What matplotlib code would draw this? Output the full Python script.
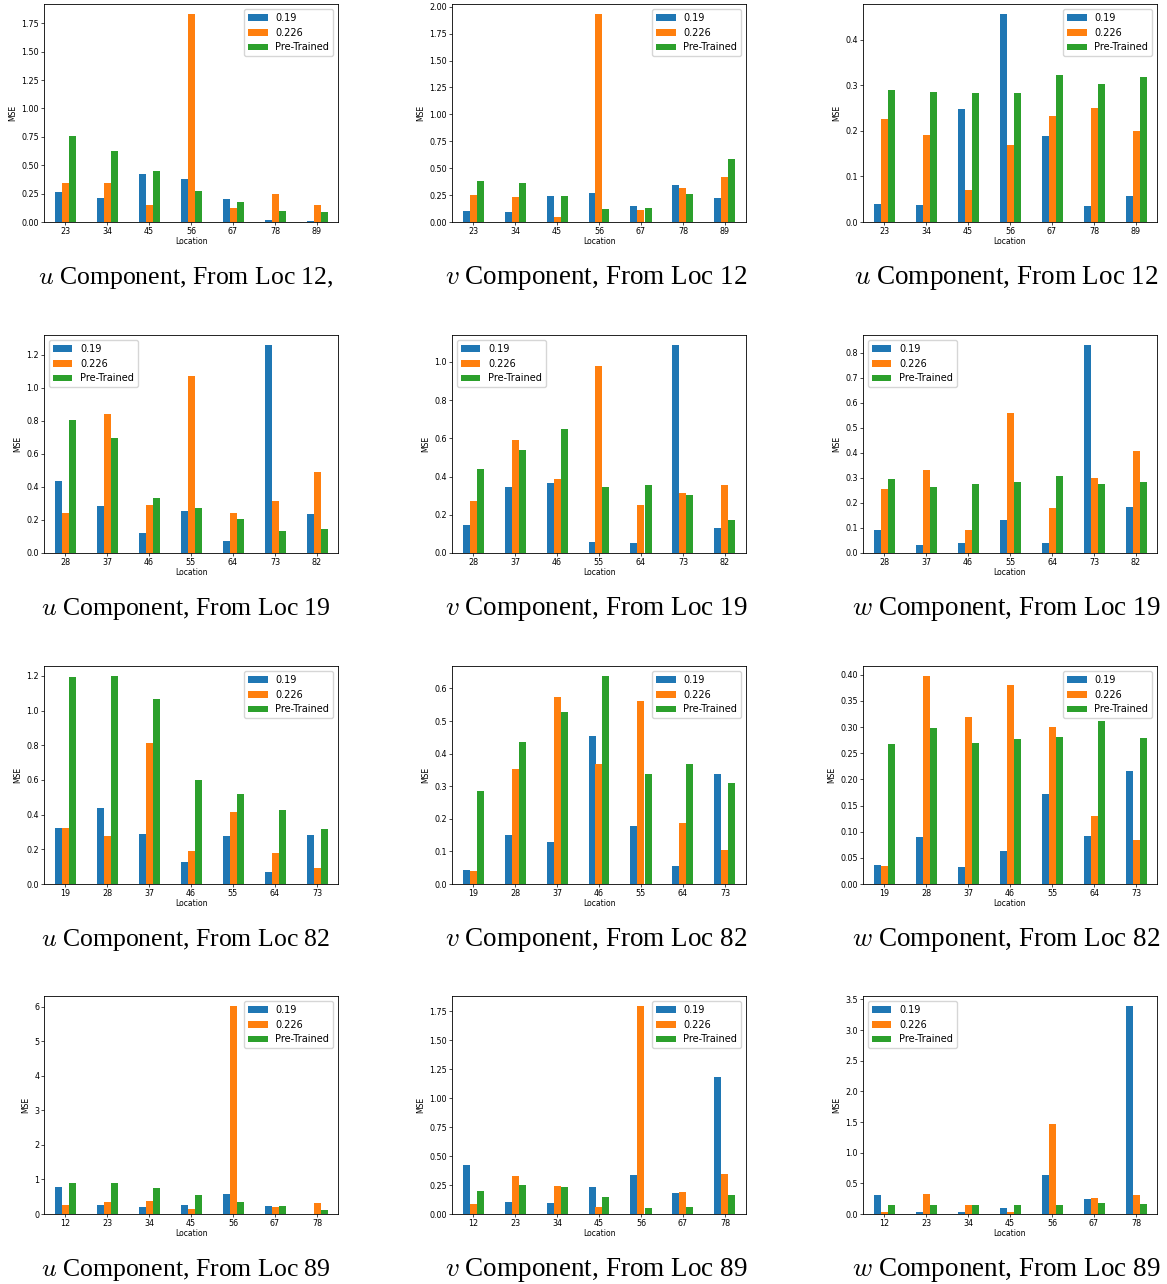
import numpy as np
import matplotlib
matplotlib.use("Agg")
import matplotlib.pyplot as plt

# location labels for each source point
locs_12 = ["23", "34", "45", "56", "67", "78", "89"]
locs_19 = ["28", "37", "46", "55", "64", "73", "82"]
locs_82 = ["19", "28", "37", "46", "55", "64", "73"]
locs_89 = ["12", "23", "34", "45", "56", "67", "78"]

series_names = ["0.19", "0.226", "Pre-Trained"]

# MSE values, from loc 12
u12_019 = [0.268, 0.215, 0.426, 0.382, 0.206, 0.020, 0.012]
u12_0226 = [0.347, 0.347, 0.153, 1.829, 0.126, 0.250, 0.153]
u12_pre = [0.762, 0.629, 0.453, 0.276, 0.179, 0.100, 0.091]

v12_019 = [0.105, 0.096, 0.245, 0.273, 0.152, 0.347, 0.226]
v12_0226 = [0.254, 0.236, 0.050, 1.929, 0.115, 0.319, 0.422]
v12_pre = [0.384, 0.366, 0.245, 0.124, 0.133, 0.264, 0.589]

w12_019 = [0.040, 0.038, 0.249, 0.456, 0.188, 0.036, 0.058]
w12_0226 = [0.227, 0.192, 0.071, 0.170, 0.232, 0.251, 0.199]
w12_pre = [0.291, 0.286, 0.284, 0.284, 0.322, 0.302, 0.319]

# from loc 19
u19_019 = [0.438, 0.287, 0.123, 0.257, 0.075, 1.257, 0.238]
u19_0226 = [0.244, 0.844, 0.293, 1.069, 0.244, 0.317, 0.493]
u19_pre = [0.808, 0.699, 0.335, 0.275, 0.208, 0.135, 0.147]

v19_019 = [0.149, 0.343, 0.369, 0.059, 0.054, 1.087, 0.133]
v19_0226 = [0.274, 0.589, 0.390, 0.977, 0.253, 0.316, 0.358]
v19_pre = [0.442, 0.537, 0.647, 0.343, 0.358, 0.306, 0.175]

w19_019 = [0.093, 0.033, 0.041, 0.133, 0.041, 0.829, 0.185]
w19_0226 = [0.257, 0.333, 0.093, 0.561, 0.181, 0.301, 0.409]
w19_pre = [0.297, 0.265, 0.277, 0.285, 0.309, 0.277, 0.285]

# from loc 82
u82_019 = [0.324, 0.439, 0.289, 0.127, 0.277, 0.069, 0.283]
u82_0226 = [0.324, 0.277, 0.815, 0.191, 0.416, 0.179, 0.092]
u82_pre = [1.191, 1.197, 1.069, 0.601, 0.520, 0.428, 0.318]

v82_019 = [0.043, 0.151, 0.129, 0.455, 0.178, 0.055, 0.338]
v82_0226 = [0.040, 0.354, 0.575, 0.369, 0.560, 0.188, 0.105]
v82_pre = [0.286, 0.437, 0.529, 0.637, 0.338, 0.369, 0.311]

w82_019 = [0.0365, 0.090, 0.0326, 0.063, 0.173, 0.092, 0.217]
w82_0226 = [0.0346, 0.397, 0.319, 0.380, 0.301, 0.1306, 0.0845]
w82_pre = [0.267, 0.298, 0.269, 0.278, 0.282, 0.311, 0.280]

# from loc 89
u89_019 = [0.79, 0.27, 0.21, 0.27, 0.59, 0.24, 0.01]
u89_0226 = [0.27, 0.356, 0.385, 0.154, 6.01, 0.21, 0.327]
u89_pre = [0.904, 0.904, 0.76, 0.558, 0.356, 0.24, 0.125]

v89_019 = [0.424, 0.106, 0.097, 0.235, 0.338, 0.183, 1.18]
v89_0226 = [0.089, 0.33, 0.244, 0.063, 1.79, 0.192, 0.347]
v89_pre = [0.200, 0.252, 0.235, 0.149, 0.054, 0.063, 0.166]

w89_019 = [0.314, 0.038, 0.038, 0.103, 0.639, 0.249, 3.386]
w89_0226 = [0.038, 0.330, 0.152, 0.038, 1.468, 0.265, 0.314]
w89_pre = [0.152, 0.152, 0.152, 0.152, 0.152, 0.184, 0.168]

panels = [
    (locs_12, [u12_019, u12_0226, u12_pre], "$u$ Component, From Loc 12,", "upper right"),
    (locs_12, [v12_019, v12_0226, v12_pre], "$v$ Component, From Loc 12", "upper right"),
    (locs_12, [w12_019, w12_0226, w12_pre], "$u$ Component, From Loc 12", "upper right"),
    (locs_19, [u19_019, u19_0226, u19_pre], "$u$ Component, From Loc 19", "upper left"),
    (locs_19, [v19_019, v19_0226, v19_pre], "$v$ Component, From Loc 19", "upper left"),
    (locs_19, [w19_019, w19_0226, w19_pre], "$w$ Component, From Loc 19", "upper left"),
    (locs_82, [u82_019, u82_0226, u82_pre], "$u$ Component, From Loc 82", "upper right"),
    (locs_82, [v82_019, v82_0226, v82_pre], "$v$ Component, From Loc 82", "upper right"),
    (locs_82, [w82_019, w82_0226, w82_pre], "$w$ Component, From Loc 82", "upper right"),
    (locs_89, [u89_019, u89_0226, u89_pre], "$u$ Component, From Loc 89", "upper right"),
    (locs_89, [v89_019, v89_0226, v89_pre], "$v$ Component, From Loc 89", "upper right"),
    (locs_89, [w89_019, w89_0226, w89_pre], "$w$ Component, From Loc 89", "upper left"),
]

colors = ["#1f77b4", "#ff7f0e", "#2ca02c"]

plt.rcParams["mathtext.fontset"] = "cm"

W, H = 1167, 1284
fig = plt.figure(figsize=(W / 100, H / 100), dpi=100)

col_left = [44, 452, 863]
row_top = [4, 335, 666, 996]
ax_w, ax_h = 294, 218
cap_x = [186, 596, 1006]
cap_y = [278, 609, 940, 1270]
cap_size = [18.5, 19.5, 19.5]

bw = 0.5 / 3
for i, (locs, vals, caption, leg_loc) in enumerate(panels):
    r, c = divmod(i, 3)
    ax = fig.add_axes([col_left[c] / W, 1 - (row_top[r] + ax_h) / H, ax_w / W, ax_h / H])
    x = np.arange(len(locs))
    for k, (name, v) in enumerate(zip(series_names, vals)):
        ax.bar(x + (k - 1) * bw, v, width=bw, color=colors[k], label=name)
    ax.set_xlim(-0.5, len(locs) - 0.5)
    ax.set_xticks(x)
    ax.set_xticklabels(locs)
    ax.set_xlabel("Location", fontsize=5.5, labelpad=1)
    ax.set_ylabel("MSE", fontsize=5.5, labelpad=3)
    ax.tick_params(labelsize=5.8, length=2, width=0.5, pad=1.5)
    for s in ax.spines.values():
        s.set_linewidth(0.6)
    ax.legend(loc=leg_loc, fontsize=7)
    fig.text(cap_x[c] / W, 1 - cap_y[r] / H, caption, ha="center", va="center",
             fontsize=cap_size[c], family="Liberation Serif")

fig.savefig("out.png", dpi=100)
